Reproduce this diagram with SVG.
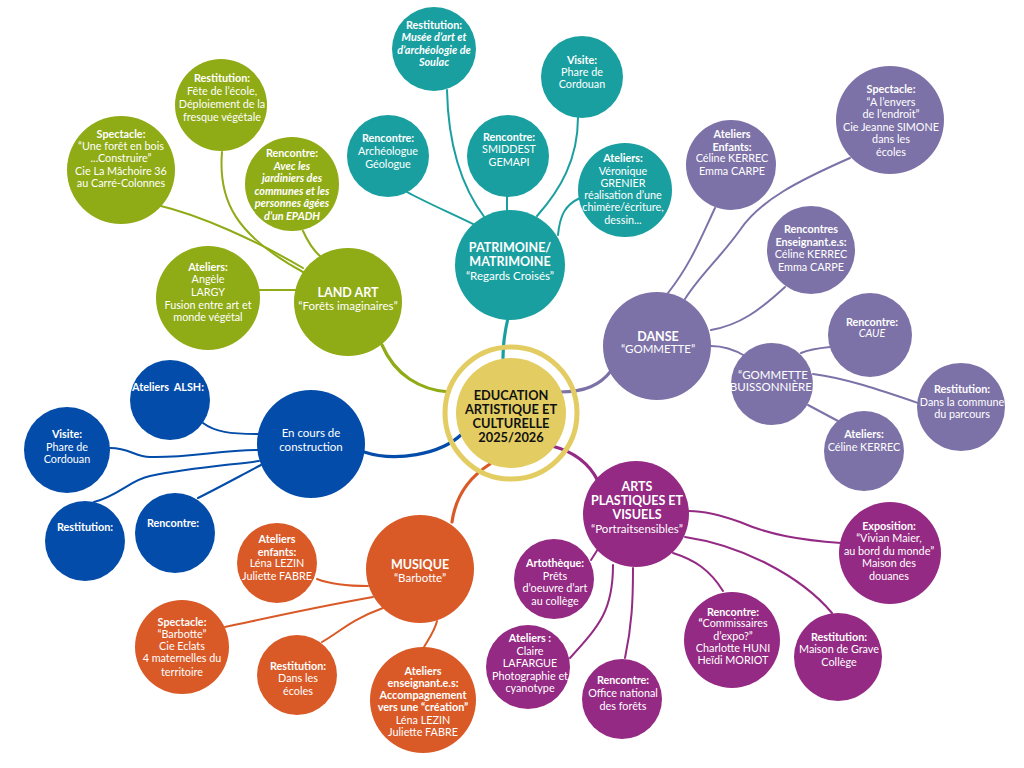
<svg xmlns="http://www.w3.org/2000/svg" width="1024" height="768" viewBox="0 0 1024 768">
<style>
text{font-family:Lato,"Noto Sans",sans-serif;fill:#fff;text-anchor:middle;font-size:10.8px}
.b{font-weight:bold}
.bi{font-weight:bold;font-style:italic}
.i{font-style:italic}
.h{font-size:12.5px;font-weight:bold}
.s{font-size:11.5px}
.c{fill:#111;font-weight:bold;font-size:12.8px}
.g{fill:#8fab15}.tl{fill:#1a9fa0}.p{fill:#7d72a8}.bl{fill:#034ca9}.o{fill:#d95a27}.m{fill:#942a83}
.cn path{fill:none;stroke-width:2;stroke-linecap:round}
.cg{stroke:#8fab15}.ct{stroke:#1a9fa0}.cp{stroke:#7d72a8}.cb{stroke:#034ca9}.co{stroke:#d95a27}.cm{stroke:#942a83}
.main{stroke-width:3.2 !important}
</style>
<rect width="1024" height="768" fill="#fff"/>
<g class="cn" id="connectors">
<path class="cg main" d="M382,345 C395,375 420,390 449,392"/>
<path class="ct main" d="M508,318 C504,335 503,345 503,358"/>
<path class="cp main" d="M560,392 C585,392 600,385 611,371"/>
<path class="cb main" d="M364,452 C395,462 440,455 462,434"/>
<path class="co main" d="M490,464 C465,480 455,500 452,522"/>
<path class="cm main" d="M552,446 C575,452 590,465 598,481"/>
<path class="cg" d="M157,205 C200,215 255,240 303,268"/>
<path class="cg" d="M222,152 C218,200 235,235 303,272"/>
<path class="cg" d="M303,231 C308,242 313,250 320,256"/>
<path class="cg" d="M259,290 L296,290"/>
<path class="ct" d="M407,192 C425,202 455,215 477,226"/>
<path class="ct" d="M447,90 C448,140 460,185 485,218"/>
<path class="ct" d="M507,196 L507,212"/>
<path class="ct" d="M578,117 C578,160 560,190 537,216"/>
<path class="ct" d="M580,198 C565,205 560,215 558,235"/>
<path class="cp" d="M715,208 C700,240 690,265 668,293"/>
<path class="cp" d="M850,158 C800,180 760,200 740,230 C720,258 700,275 685,299"/>
<path class="cp" d="M785,287 C760,310 740,325 711,330"/>
<path class="cp" d="M711,346 C725,346 735,350 745,356"/>
<path class="cp" d="M801,353 C810,349 820,348 830,347"/>
<path class="cp" d="M813,374 C845,378 880,390 918,403"/>
<path class="cp" d="M808,405 L838,421"/>
<path class="cb" d="M203,423 C215,432 230,434 258,434"/>
<path class="cb" d="M110,448 C130,448 135,457 150,457 C190,458 220,450 258,450"/>
<path class="cb" d="M94,502 C120,495 130,480 150,476 C190,468 230,465 259,461"/>
<path class="cb" d="M198,498 C220,487 240,476 261,465"/>
<path class="co" d="M317,579 C330,584 345,586 368,586"/>
<path class="co" d="M225,627 C250,622 300,610 373,597"/>
<path class="co" d="M322,642 C340,632 350,620 383,608"/>
<path class="co" d="M424,647 C430,637 435,630 437,621"/>
<path class="cm" d="M591,560 L598,549"/>
<path class="cm" d="M570,658 C600,625 613,610 613,565"/>
<path class="cm" d="M625,658 C632,625 633,600 633,568"/>
<path class="cm" d="M723,591 C710,570 695,560 673,553"/>
<path class="cm" d="M832,613 C800,575 740,545 685,537"/>
<path class="cm" d="M841,543 C800,540 770,535 740,522 C715,513 700,511 689,511"/>
</g>

<g id="center">
<circle cx="511" cy="413" r="66" fill="none" stroke="#e3cd62" stroke-width="5"/>
<circle cx="511" cy="413" r="55" fill="#e3cd62"/>
<text class="c" x="511" y="400">EDUCATION</text>
<text class="c" x="511" y="414">ARTISTIQUE ET</text>
<text class="c" x="511" y="428">CULTURELLE</text>
<text class="c" x="511" y="442">2025/2026</text>
</g>

<g id="land-art">
<circle class="g" cx="348" cy="302" r="54"/>
<text class="h" x="348" y="297">LAND ART</text>
<text class="s" x="348" y="310">“Forêts imaginaires”</text>
</g>
<g id="la-restitution">
<circle class="g" cx="221" cy="105" r="46"/>
<text class="b" x="222" y="82">Restitution:</text>
<text x="222" y="95">Fête de l’école,</text>
<text x="222" y="108">Déploiement de la</text>
<text x="222" y="121">fresque végétale</text>
</g>
<g id="la-spectacle">
<circle class="g" cx="121" cy="170" r="54"/>
<text class="b" x="121" y="138">Spectacle:</text>
<text x="121" y="150">“Une forêt en bois</text>
<text x="121" y="162">...Construire”</text>
<text x="121" y="175">Cie La Mâchoire 36</text>
<text x="121" y="187">au Carré-Colonnes</text>
</g>
<g id="la-rencontre">
<circle class="g" cx="292" cy="184" r="47"/>
<text class="b" x="292" y="157">Rencontre:</text>
<text class="bi" x="292" y="170">Avec les</text>
<text class="bi" x="292" y="182">jardiniers des</text>
<text class="bi" x="292" y="195">communes et les</text>
<text class="bi" x="292" y="207">personnes âgées</text>
<text class="bi" x="292" y="220">d’un EPADH</text>
</g>
<g id="la-ateliers">
<circle class="g" cx="208" cy="298" r="52"/>
<text class="b" x="208" y="271">Ateliers:</text>
<text x="208" y="283">Angèle</text>
<text x="208" y="296">LARGY</text>
<text x="208" y="309">Fusion entre art et</text>
<text x="208" y="321">monde végétal</text>
</g>

<g id="patrimoine">
<circle class="tl" cx="510" cy="265" r="55"/>
<text class="h" x="510" y="252">PATRIMOINE/</text>
<text class="h" x="510" y="266">MATRIMOINE</text>
<text class="s" x="510" y="280">“Regards Croisés”</text>
</g>
<g id="pa-restitution">
<circle class="tl" cx="434" cy="49" r="42"/>
<text class="b" x="434" y="29">Restitution:</text>
<text class="bi" x="434" y="41">Musée d’art et</text>
<text class="bi" x="434" y="54">d’archéologie de</text>
<text class="bi" x="434" y="66">Soulac</text>
</g>
<g id="pa-visite">
<circle class="tl" cx="582" cy="77" r="41"/>
<text class="b" x="582" y="64">Visite:</text>
<text x="582" y="76">Phare de</text>
<text x="582" y="88">Cordouan</text>
</g>
<g id="pa-rencontre1">
<circle class="tl" cx="388" cy="156" r="41"/>
<text class="b" x="388" y="142">Rencontre:</text>
<text x="388" y="155">Archéologue</text>
<text x="388" y="168">Géologue</text>
</g>
<g id="pa-rencontre2">
<circle class="tl" cx="508" cy="156" r="41"/>
<text class="b" x="509" y="141">Rencontre:</text>
<text x="509" y="153">SMIDDEST</text>
<text x="509" y="166">GEMAPI</text>
</g>
<g id="pa-ateliers">
<circle class="tl" cx="625" cy="190" r="47"/>
<text class="b" x="623" y="162">Ateliers:</text>
<text x="623" y="175">Véronique</text>
<text x="623" y="187">GRENIER</text>
<text x="623" y="199">réalisation d’une</text>
<text x="623" y="211">chimère/écriture,</text>
<text x="623" y="224">dessin...</text>
</g>

<g id="danse">
<circle class="p" cx="657" cy="346" r="54"/>
<text class="h" x="658" y="341">DANSE</text>
<text class="s" x="658" y="353">“GOMMETTE”</text>
</g>
<g id="da-ateliers-enfants">
<circle class="p" cx="731" cy="165" r="45"/>
<text class="b" x="732" y="138">Ateliers</text>
<text class="b" x="732" y="151">Enfants:</text>
<text x="732" y="162">Céline KERREC</text>
<text x="732" y="175">Emma CARPE</text>
</g>
<g id="da-spectacle">
<circle class="p" cx="890" cy="120" r="54"/>
<text class="b" x="891" y="93">Spectacle:</text>
<text x="891" y="106">“A l’envers</text>
<text x="891" y="118">de l’endroit”</text>
<text x="891" y="131">Cie Jeanne SIMONE</text>
<text x="891" y="143">dans les</text>
<text x="891" y="156">écoles</text>
</g>
<g id="da-rencontres">
<circle class="p" cx="811" cy="250" r="44"/>
<text class="b" x="811" y="233">Rencontres</text>
<text class="b" x="811" y="246">Enseignant.e.s:</text>
<text x="811" y="258">Céline KERREC</text>
<text x="811" y="271">Emma CARPE</text>
</g>
<g id="da-buissonniere">
<circle class="p" cx="772" cy="384" r="41"/>
<text class="s" x="773" y="379">“GOMMETTE</text>
<text class="s" x="773" y="391">BUISSONNIÈRE”</text>
</g>
<g id="da-caue">
<circle class="p" cx="870" cy="335" r="42"/>
<text class="b" x="872" y="326">Rencontre:</text>
<text class="i" x="872" y="337">CAUE</text>
</g>
<g id="da-restitution">
<circle class="p" cx="961" cy="407" r="44"/>
<text class="b" x="962" y="393">Restitution:</text>
<text x="962" y="406">Dans la commune</text>
<text x="962" y="418">du parcours</text>
</g>
<g id="da-ateliers">
<circle class="p" cx="864" cy="451" r="40"/>
<text class="b" x="864" y="438">Ateliers:</text>
<text x="864" y="451">Céline KERREC</text>
</g>

<g id="construction">
<circle class="bl" cx="311" cy="444" r="54"/>
<text class="s" x="311" y="437">En cours de</text>
<text class="s" x="311" y="451">construction</text>
</g>
<g id="co-alsh">
<circle class="bl" cx="170" cy="400" r="40"/>
<text class="b" x="168" y="391" xml:space="preserve">Ateliers  ALSH:</text>
</g>
<g id="co-visite">
<circle class="bl" cx="67" cy="450" r="43"/>
<text class="b" x="67" y="438">Visite:</text>
<text x="67" y="451">Phare de</text>
<text x="67" y="463">Cordouan</text>
</g>
<g id="co-restitution">
<circle class="bl" cx="85" cy="541" r="40"/>
<text class="b" x="85" y="531">Restitution:</text>
</g>
<g id="co-rencontre">
<circle class="bl" cx="175" cy="533" r="40"/>
<text class="b" x="173" y="527">Rencontre:</text>
</g>

<g id="musique">
<circle class="o" cx="420" cy="569" r="54"/>
<text class="h" x="420" y="569">MUSIQUE</text>
<text class="s" x="420" y="582">“Barbotte”</text>
</g>
<g id="mu-ateliers-enfants">
<circle class="o" cx="277" cy="563" r="40"/>
<text class="b" x="277" y="543">Ateliers</text>
<text class="b" x="277" y="556">enfants:</text>
<text x="277" y="567">Léna LEZIN</text>
<text x="277" y="580">Juliette FABRE</text>
</g>
<g id="mu-spectacle">
<circle class="o" cx="182" cy="647" r="47"/>
<text class="b" x="182" y="626">Spectacle:</text>
<text x="182" y="638">“Barbotte”</text>
<text x="182" y="650">Cie Eclats</text>
<text x="182" y="662">4 maternelles du</text>
<text x="182" y="676">territoire</text>
</g>
<g id="mu-restitution">
<circle class="o" cx="297" cy="675" r="40"/>
<text class="b" x="298" y="670">Restitution:</text>
<text x="298" y="682">Dans les</text>
<text x="298" y="695">écoles</text>
</g>
<g id="mu-ateliers-ens">
<circle class="o" cx="423" cy="700" r="53"/>
<text class="b" x="423" y="675">Ateliers</text>
<text class="b" x="423" y="687">enseignant.e.s:</text>
<text class="b" x="423" y="699">Accompagnement</text>
<text class="b" x="423" y="711">vers une “création”</text>
<text x="423" y="724">Léna LEZIN</text>
<text x="423" y="736">Juliette FABRE</text>
</g>

<g id="arts">
<circle class="m" cx="636" cy="514" r="53"/>
<text class="h" x="637" y="491">ARTS</text>
<text class="h" x="637" y="505">PLASTIQUES ET</text>
<text class="h" x="637" y="519">VISUELS</text>
<text class="s" x="637" y="533">“Portraitsensibles”</text>
</g>
<g id="ar-artotheque">
<circle class="m" cx="554" cy="579" r="40"/>
<text class="b" x="555" y="567">Artothèque:</text>
<text x="555" y="580">Prêts</text>
<text x="555" y="592">d’oeuvre d’art</text>
<text x="555" y="605">au collège</text>
</g>
<g id="ar-ateliers">
<circle class="m" cx="528" cy="667" r="42"/>
<text class="b" x="530" y="642">Ateliers :</text>
<text x="530" y="655">Claire</text>
<text x="530" y="667">LAFARGUE</text>
<text x="530" y="680">Photographie et</text>
<text x="530" y="692">cyanotype</text>
</g>
<g id="ar-rencontre-onf">
<circle class="m" cx="622" cy="699" r="40"/>
<text class="b" x="623" y="684">Rencontre:</text>
<text x="623" y="697">Office national</text>
<text x="623" y="710">des forêts</text>
</g>
<g id="ar-rencontre-comm">
<circle class="m" cx="732" cy="640" r="48"/>
<text class="b" x="733" y="616">Rencontre:</text>
<text x="733" y="627"><tspan class="b">“</tspan>Commissaires</text>
<text x="733" y="640">d’expo?”</text>
<text x="733" y="652">Charlotte HUNI</text>
<text x="733" y="664">Heïdi MORIOT</text>
</g>
<g id="ar-restitution">
<circle class="m" cx="838" cy="657" r="44"/>
<text class="b" x="839" y="641">Restitution:</text>
<text x="839" y="653">Maison de Grave</text>
<text x="839" y="666">Collège</text>
</g>
<g id="ar-exposition">
<circle class="m" cx="890" cy="553" r="51"/>
<text class="b" x="889" y="530">Exposition:</text>
<text x="889" y="542">“Vivian Maier,</text>
<text x="889" y="555">au bord du monde”</text>
<text x="889" y="567">Maison des</text>
<text x="889" y="580">douanes</text>
</g>
</svg>
